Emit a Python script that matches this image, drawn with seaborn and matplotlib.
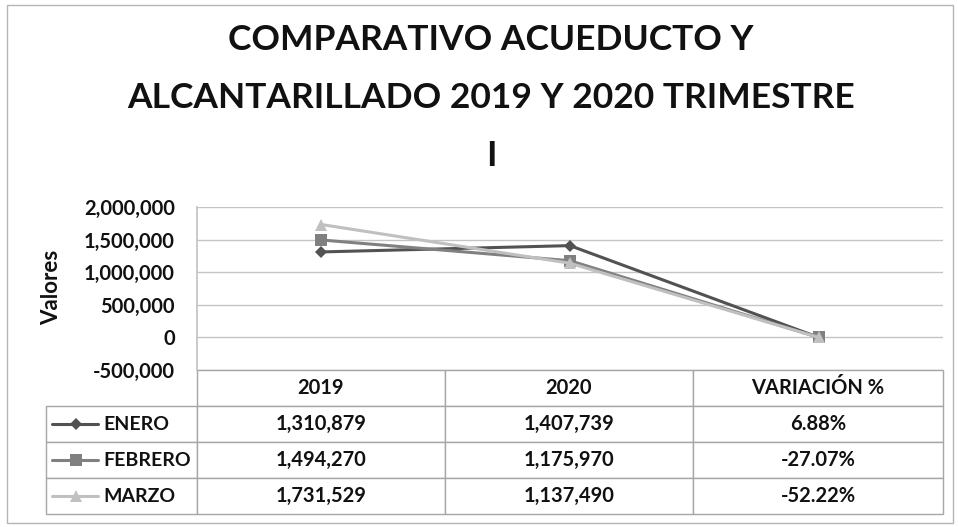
import numpy as np
import pandas as pd
import matplotlib.pyplot as plt
import seaborn as sns
from matplotlib.patches import Rectangle
from matplotlib.lines import Line2D
from matplotlib.ticker import FuncFormatter

# %% data
categories = ["2019", "2020", "VARIACIÓN %"]
months = ["ENERO", "FEBRERO", "MARZO"]
enero = [1310879, 1407739, 0.0688]
febrero = [1494270, 1175970, -0.2707]
marzo = [1731529, 1137490, -0.5222]
yticks = [-500000, 0, 500000, 1000000, 1500000, 2000000]

df = pd.DataFrame({
    "periodo": categories * 3,
    "mes": np.repeat(months, len(categories)),
    "valor": enero + febrero + marzo,
})
df["x"] = df["periodo"].map({c: i for i, c in enumerate(categories)})

# %% style
sns.set_theme(style="white")
plt.rcParams["font.family"] = ["Lato", "DejaVu Sans"]

colors = {"ENERO": "#525252", "FEBRERO": "#808080", "MARZO": "#c0c0c0"}
markers = {"ENERO": "D", "FEBRERO": "s", "MARZO": "^"}
msizes = {"ENERO": 6, "FEBRERO": 9, "MARZO": 9}
grid_c = "#c4c4c4"
table_c = "#a6a6a6"
text_c = "#111111"

fig = plt.figure(figsize=(9.58, 5.27), dpi=100)
fig.patch.set_facecolor("white")
fig.patches.append(Rectangle((7 / 958, 4 / 527), 946 / 958, 518 / 527,
                             transform=fig.transFigure, fill=False,
                             edgecolor="#b5b5b5", linewidth=1))

ax = fig.add_axes([0.2056, 0.2979, 0.7787, 0.3093])
sns.lineplot(data=df, x="x", y="valor", hue="mes", style="mes",
             palette=colors, markers=markers, dashes=False,
             linewidth=2.2, markeredgewidth=0, legend=False, ax=ax)
for line, m in zip(ax.lines, months):
    line.set_markersize(msizes[m])

ax.set_xlim(-0.5, 2.5)
ax.set_ylim(yticks[0], yticks[-1])
ax.set_yticks(yticks)
ax.yaxis.set_major_formatter(FuncFormatter(lambda v, p: f"{v:,.0f}"))
ax.set_xticks([])
ax.set_xlabel("")
ax.set_ylabel("")
ax.tick_params(axis="y", labelsize=14.5, length=0, pad=16, labelcolor=text_c)
for t in ax.get_yticklabels():
    t.set_fontweight("bold")
ax.yaxis.grid(True, color=grid_c, linewidth=1)
ax.set_axisbelow(True)
for s in ["top", "right", "bottom"]:
    ax.spines[s].set_visible(False)
ax.spines["left"].set_color(grid_c)

fig.text(52 / 958, 1 - 287 / 527, "Valores", rotation=90, ha="center", va="center",
         fontsize=16, fontweight="bold", color=text_c)

fig.text(0.5125, 1 - 98 / 527,
         "COMPARATIVO ACUEDUCTO Y\nALCANTARILLADO 2019 Y 2020 TRIMESTRE\nI",
         ha="center", va="center", fontsize=25.5, fontweight="bold",
         linespacing=2.0, color=text_c)

# %% data table under the plot
series = {"ENERO": enero, "FEBRERO": febrero, "MARZO": marzo}
cell_text = [[""] + categories]
for m in months:
    v = series[m]
    cell_text.append([m, f"{v[0]:,.0f}", f"{v[1]:,.0f}", f"{v[2]:.2%}"])

col_w = np.array([151, 248, 248, 250], dtype=float)
tbl = ax.table(cellText=cell_text, colWidths=list(col_w / col_w.sum()),
               cellLoc="center", bbox=[-0.2024, -0.8834, 1.2024, 0.8834])
tbl.auto_set_font_size(False)
for (r, c), cell in tbl.get_celld().items():
    cell.set_edgecolor(table_c)
    cell.set_linewidth(1)
    cell.get_text().set_fontsize(14.5)
    cell.get_text().set_fontweight("bold")
    cell.get_text().set_color(text_c)
    if r == 0 and c == 0:
        cell.visible_edges = ""
    if c == 0 and r > 0:
        cell._loc = "left"
        cell.PAD = 0.38
        cell.get_text().set_ha("left")
        cell.get_text().set_fontsize(14)

# legend keys inside the row label cells
for i, m in enumerate(months, start=1):
    yc = -(36 * i + 18) / 163
    ax.add_line(Line2D([-0.1944, -0.1327], [yc, yc], transform=ax.transAxes,
                       color=colors[m], linewidth=2.2, clip_on=False))
    ax.add_line(Line2D([-0.1622], [yc], transform=ax.transAxes, marker=markers[m],
                       markersize=msizes[m], markeredgewidth=0, color=colors[m],
                       clip_on=False))

fig.savefig("out.png", dpi=100)
